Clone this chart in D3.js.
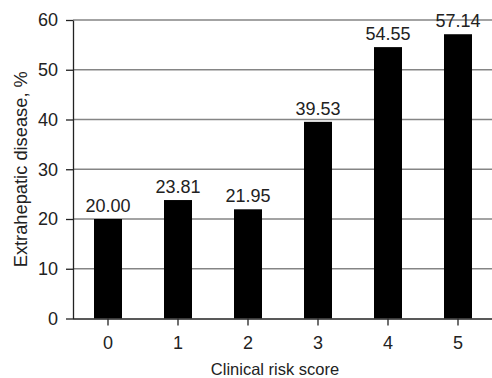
<!DOCTYPE html>
<html>
<head>
<meta charset="utf-8">
<script src="https://cdn.jsdelivr.net/npm/d3@7"></script>
<style>
  html, body { margin: 0; padding: 0; background: #fff; }
  svg { display: block; }
  text { font-family: "Liberation Sans", Arial, Helvetica, sans-serif; fill: #222; }
</style>
</head>
<body>
<svg id="chart" width="492" height="378"></svg>
<script>
const categories = ["0", "1", "2", "3", "4", "5"];
const values = [20.00, 23.81, 21.95, 39.53, 54.55, 57.14];
const yTicks = [0, 10, 20, 30, 40, 50, 60];
const xTitle = "Clinical risk score";
const yTitle = "Extrahepatic disease, %";

const W = 492, H = 378;
const mLeft = 73, mRight = 493, mTop = 20, mBottom = 318.5;

const svg = d3.select("#chart");
const x = d3.scaleBand().domain(categories).range([mLeft, mRight]).paddingInner(0.6).paddingOuter(0.3);
const y = d3.scaleLinear().domain([0, 60]).range([mBottom, mTop]);

// gridlines
svg.append("g").selectAll("line").data(yTicks.filter(d => d > 0)).join("line")
  .attr("x1", mLeft).attr("x2", W)
  .attr("y1", d => y(d)).attr("y2", d => y(d))
  .attr("stroke", "#858585").attr("stroke-width", 1.3);

// bars
svg.append("g").selectAll("rect").data(values).join("rect")
  .attr("x", (d, i) => x(categories[i]))
  .attr("width", x.bandwidth())
  .attr("y", d => y(d))
  .attr("height", d => y(0) - y(d))
  .attr("fill", "#000");

// value labels
svg.append("g").selectAll("text").data(values).join("text")
  .attr("x", (d, i) => x(categories[i]) + x.bandwidth() / 2)
  .attr("y", d => y(d) - 7)
  .attr("text-anchor", "middle")
  .style("font-size", "18px")
  .text(d => d.toFixed(2));

// y axis
const yAxis = d3.axisLeft(y).tickValues(yTicks).tickSize(7).tickPadding(8).tickSizeOuter(0);
const gy = svg.append("g").attr("transform", `translate(${mLeft},0)`).call(yAxis);
gy.select(".domain").attr("stroke", "#222").attr("stroke-width", 1.3);
gy.selectAll(".tick line").attr("stroke", "#222").attr("stroke-width", 1.3);
gy.selectAll(".tick text").style("font-size", "18px").attr("fill", "#222").attr("font-family", null);

// x axis
const xAxis = d3.axisBottom(x).tickSize(7).tickPadding(11).tickSizeOuter(0);
const gx = svg.append("g").attr("transform", `translate(0,${mBottom})`).call(xAxis);
gx.select(".domain").attr("stroke", "#222").attr("stroke-width", 1.3).attr("d", `M${mLeft},0.5H${W}`);
gx.selectAll(".tick line").attr("stroke", "#222").attr("stroke-width", 1.3);
gx.selectAll(".tick text").style("font-size", "18px").attr("fill", "#222").attr("font-family", null);

// titles
svg.append("text").attr("x", 275).attr("y", 375)
  .attr("text-anchor", "middle").style("font-size", "16.5px").text(xTitle);
svg.append("text").attr("transform", `translate(27,${(mTop + mBottom) / 2}) rotate(-90)`)
  .attr("text-anchor", "middle").style("font-size", "18.3px").text(yTitle);
</script>
</body>
</html>
